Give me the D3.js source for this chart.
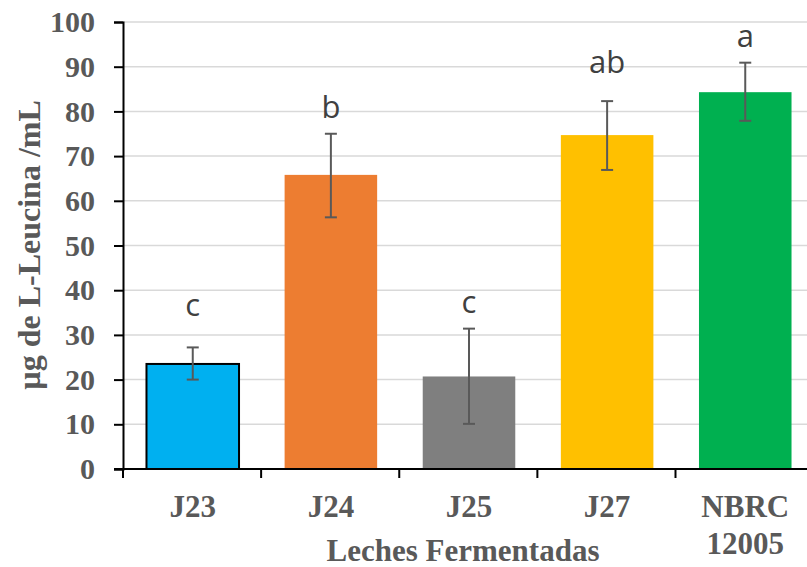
<!DOCTYPE html>
<html>
<head>
<meta charset="utf-8">
<script src="https://cdn.jsdelivr.net/npm/d3@7"></script>
<style>
  body { margin: 0; background: #fff; }
</style>
</head>
<body>
<div id="chart"></div>
<script>
// values
var categories = ["J23", "J24", "J25", "J27", "NBRC 12005"];
var means = [23.5, 65.8, 20.7, 74.7, 84.3];
var errLow = [20.0, 56.3, 10.1, 66.9, 77.9];
var errHigh = [27.2, 75.0, 31.4, 82.3, 90.9];
var letters = ["c", "b", "c", "ab", "a"];
var letterAt = [34.2, 78.5, 34.9, 88.6, 94.4];
var yTicks = [0, 10, 20, 30, 40, 50, 60, 70, 80, 90, 100];
var barColors = ["#00B0F0", "#ED7D31", "#7F7F7F", "#FFC000", "#00B050"];

var width = 807, height = 567;
var margin = {top: 22, right: -8, bottom: 98, left: 123};
var serif = "'Liberation Serif', 'Times New Roman', serif";

var svg = d3.select("#chart").append("svg")
    .attr("width", width)
    .attr("height", height);

var x = d3.scaleBand()
    .domain(categories)
    .range([margin.left, width - margin.right])
    .paddingInner(0.33)
    .paddingOuter(0.17);

var y = d3.scaleLinear()
    .domain([0, 100])
    .range([height - margin.bottom, margin.top]);

// gridlines
svg.append("g")
  .selectAll("line")
  .data(yTicks.slice(1))
  .enter().append("line")
    .attr("x1", margin.left)
    .attr("x2", width)
    .attr("y1", d => y(d))
    .attr("y2", d => y(d))
    .style("stroke", "#d9d9d9")
    .style("stroke-width", 1.5);

// bars
svg.append("g")
  .selectAll("rect")
  .data(categories)
  .enter().append("rect")
    .attr("x", d => x(d))
    .attr("width", x.bandwidth())
    .attr("y", (d, i) => y(means[i]))
    .attr("height", (d, i) => y(0) - y(means[i]))
    .style("fill", (d, i) => barColors[i])
    .style("stroke", (d, i) => i == 0 ? "#000" : "none")
    .style("stroke-width", 2);

// error bars
var eb = svg.append("g")
  .selectAll("g")
  .data(categories)
  .enter().append("g")
    .style("stroke", "#595959")
    .style("stroke-width", 2);
eb.append("line")
    .attr("x1", d => x(d) + x.bandwidth() / 2)
    .attr("x2", d => x(d) + x.bandwidth() / 2)
    .attr("y1", (d, i) => y(errLow[i]))
    .attr("y2", (d, i) => y(errHigh[i]));
eb.append("line")
    .attr("x1", d => x(d) + x.bandwidth() / 2 - 6)
    .attr("x2", d => x(d) + x.bandwidth() / 2 + 6)
    .attr("y1", (d, i) => y(errLow[i]))
    .attr("y2", (d, i) => y(errLow[i]));
eb.append("line")
    .attr("x1", d => x(d) + x.bandwidth() / 2 - 6)
    .attr("x2", d => x(d) + x.bandwidth() / 2 + 6)
    .attr("y1", (d, i) => y(errHigh[i]))
    .attr("y2", (d, i) => y(errHigh[i]));

// significance letters
svg.append("g")
  .selectAll("text")
  .data(categories)
  .enter().append("text")
    .attr("x", d => x(d) + x.bandwidth() / 2)
    .attr("y", (d, i) => y(letterAt[i]))
    .attr("text-anchor", "middle")
    .style("font-family", "'Open Sans', sans-serif")
    .style("font-size", "31px")
    .style("fill", "#404040")
    .text((d, i) => letters[i]);

// y axis
var yAxis = svg.append("g")
    .attr("transform", "translate(" + margin.left + ",0)")
    .call(d3.axisLeft(y).tickValues(yTicks).tickSize(9).tickPadding(19));
yAxis.select(".domain").style("stroke", "#000").style("stroke-width", 2);
yAxis.selectAll(".tick line").style("stroke", "#000").style("stroke-width", 2);
yAxis.selectAll("text")
    .style("font-family", serif)
    .style("font-weight", "bold")
    .style("font-size", "30px")
    .style("fill", "#595959");

// x axis
var xBounds = d3.range(categories.length).map(i => margin.left + i * x.step());
var xAxisG = svg.append("g");
xAxisG.append("line")
    .attr("x1", margin.left - 9)
    .attr("x2", width)
    .attr("y1", y(0))
    .attr("y2", y(0))
    .style("stroke", "#000")
    .style("stroke-width", 2);
xAxisG.selectAll(".xt")
  .data(xBounds)
  .enter().append("line")
    .attr("x1", d => d)
    .attr("x2", d => d)
    .attr("y1", y(0))
    .attr("y2", y(0) + 9)
    .style("stroke", "#000")
    .style("stroke-width", 2);

var xLabels = xAxisG.selectAll(".xl")
  .data(categories)
  .enter().append("text")
    .attr("x", d => x(d) + x.bandwidth() / 2)
    .attr("y", 517)
    .attr("text-anchor", "middle")
    .style("font-family", serif)
    .style("font-weight", "bold")
    .style("font-size", "31px")
    .style("fill", "#595959");
xLabels.each(function(d) {
  var parts = d.split(" ");
  var t = d3.select(this);
  parts.forEach(function(p, k) {
    t.append("tspan")
      .attr("x", x(d) + x.bandwidth() / 2)
      .attr("dy", k == 0 ? 0 : 37)
      .text(p);
  });
});

// axis titles
svg.append("text")
    .attr("x", 463)
    .attr("y", 561)
    .attr("text-anchor", "middle")
    .style("font-family", serif)
    .style("font-weight", "bold")
    .style("font-size", "31px")
    .style("fill", "#595959")
    .text("Leches Fermentadas");

svg.append("text")
    .attr("transform", "translate(40,245) rotate(-90)")
    .attr("text-anchor", "middle")
    .style("font-family", serif)
    .style("font-weight", "bold")
    .style("font-size", "32px")
    .style("fill", "#595959")
    .text("µg de L-Leucina /mL");
</script>
</body>
</html>
